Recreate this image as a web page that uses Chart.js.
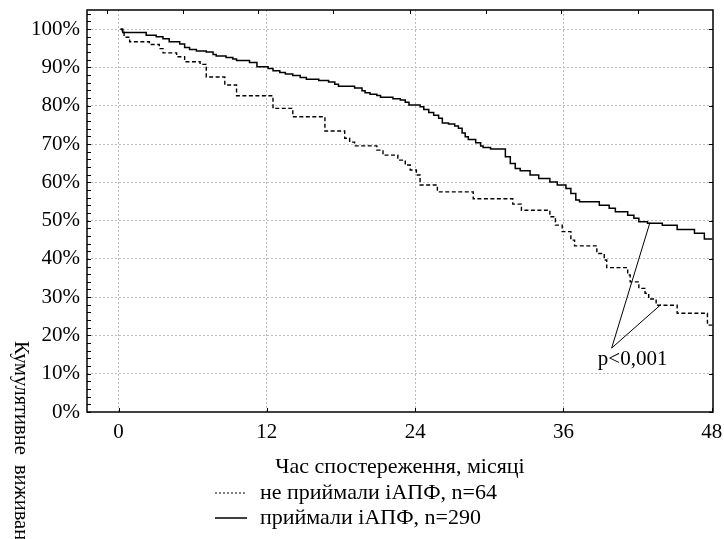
<!DOCTYPE html>
<html>
<head>
<meta charset="utf-8">
<script src="https://cdn.jsdelivr.net/npm/chart.js@4.4.1/dist/chart.umd.min.js"></script>
<style>
  html, body { margin: 0; padding: 0; background: #fff; }
</style>
</head>
<body>
<canvas id="km" width="724" height="539"></canvas>
<script>
'use strict';

// ---------------------------------------------------------------------------
// Data (month of event, survival % after it)
// ---------------------------------------------------------------------------

const treatedLabel = 'приймали іАПФ, n=290';
const treatedMonths = [0.16, 0.35, 2.24, 3.05, 3.6, 4.1, 4.95, 5.35, 5.75, 6.3, 7.1, 7.65, 7.9, 8.7, 9.25, 9.55,
  10.6, 11.2, 12.1, 12.5, 13.05, 13.5, 14.1, 14.7, 15.2, 16.2, 17.0, 17.5, 17.8, 19.1, 19.7, 19.95, 20.35, 20.9,
  21.2, 22.2, 22.8, 23.2, 23.5, 24.4, 24.7, 25.1, 25.5, 25.9, 26.2, 26.7, 27.2, 27.5, 27.8, 28.05, 28.3, 28.9,
  29.3, 29.5, 30.1, 31.3, 31.7, 32.1, 32.5, 33.3, 34.0, 34.9, 35.5, 36.2, 36.6, 37.0, 37.3, 38.9, 39.7, 40.2,
  41.2, 41.7, 42.1, 42.8, 44.0, 45.2, 46.6, 47.4, 48.05];
const treatedSurv = [100, 99.1, 98.4, 98.0, 97.5, 96.7, 96.1, 95.2, 94.7, 94.3, 94.0, 93.4, 93.0, 92.6, 92.2, 91.8,
  91.3, 90.2, 89.7, 89.1, 88.7, 88.3, 87.9, 87.4, 86.9, 86.6, 86.2, 85.6, 85.1, 84.6, 83.9, 83.4, 83.0, 82.7,
  82.2, 81.8, 81.5, 80.9, 80.2, 79.7, 79.0, 78.2, 77.5, 76.7, 75.5, 75.2, 74.7, 74.1, 72.9, 71.9, 71.2, 70.3,
  69.5, 69.1, 68.7, 66.7, 64.9, 63.6, 63.0, 61.9, 61.0, 60.1, 59.3, 58.4, 57.1, 55.4, 54.9, 54.0, 53.2, 52.3,
  51.4, 50.6, 49.7, 49.3, 48.8, 47.7, 46.7, 45.2, 45.2];

const untreatedLabel = 'не приймали іАПФ, n=64';
const untreatedMonths = [0.16, 0.3, 0.45, 0.9, 2.5, 3.3, 3.6, 4.7, 5.35, 6.6, 7.1, 8.6, 9.55, 12.5, 14.1, 16.7,
  18.3, 18.7, 19.1, 20.9, 21.4, 22.6, 23.2, 23.6, 24.1, 24.4, 25.8, 28.7, 31.9, 32.6, 34.9, 35.35, 35.9, 36.6,
  36.9, 38.7, 39.3, 39.5, 41.2, 41.4, 42.1, 42.6, 42.9, 43.5, 45.2, 47.65, 48.05];
const untreatedSurv = [100, 99.2, 97.9, 96.7, 96.0, 94.9, 93.8, 92.8, 91.5, 90.8, 87.5, 85.4, 82.6, 79.3, 77.1, 73.4,
  71.5, 70.5, 69.5, 68.4, 67.1, 65.8, 64.5, 63.2, 61.9, 59.3, 57.5, 55.7, 54.3, 52.7, 51.0, 48.8, 47.1, 44.9,
  43.4, 41.4, 39.7, 37.7, 35.8, 34.0, 32.3, 31.0, 29.5, 27.9, 25.8, 22.7, 22.7];

// "p<0,001" pointer: solid-curve end, apex, dashed-curve end
const pLabel = 'p<0,001';
const pointerMonths = [43.0, 39.9, 43.9];
const pointerSurv = [49.5, 16.7, 28.1];
const pLabelAt = [41.6, 13.6];

// Axes
const xTitle = 'Час спостереження, місяці';
const yTitle = 'Кумулятивне виживання';
const xTicks = [0, 12, 24, 36, 48];
const yTicks = [0, 10, 20, 30, 40, 50, 60, 70, 80, 90, 100];
const yMinorTicks = [2, 4, 6, 8, 12, 14, 16, 18, 22, 24, 26, 28, 32, 34, 36, 38, 42, 44, 46, 48, 52, 54, 56, 58,
  62, 64, 66, 68, 72, 74, 76, 78, 82, 84, 86, 88, 92, 94, 96, 98, 102, 104];
const topTicks = [-0.97, 5.19, 11.27, 17.35, 23.6, 29.7, 35.8, 42.0];

// ---------------------------------------------------------------------------

const FONT = 'Liberation Serif';
const zip = (xs, ys) => xs.map((x, i) => ({ x, y: ys[i] }));

// Frame, inward tick marks, annotation text, axis titles and legend
const framePlugin = {
  id: 'frame',
  afterDatasetsDraw(chart) {
    const { ctx, chartArea: a, scales: { x, y } } = chart;
    ctx.save();
    ctx.strokeStyle = '#000';
    ctx.setLineDash([]);

    ctx.lineWidth = 1.5;
    ctx.strokeRect(a.left, a.top, a.right - a.left, a.bottom - a.top);

    ctx.lineWidth = 1;
    ctx.beginPath();
    for (const v of yTicks.concat(yMinorTicks)) {
      const py = Math.round(y.getPixelForValue(v)) + 0.5;
      ctx.moveTo(a.left, py); ctx.lineTo(a.left + 4, py);
    }
    for (const v of yTicks) {
      const py = Math.round(y.getPixelForValue(v)) + 0.5;
      ctx.moveTo(a.right, py); ctx.lineTo(a.right - 4, py);
    }
    for (const v of xTicks) {
      const px = Math.round(x.getPixelForValue(v)) + 0.5;
      ctx.moveTo(px, a.bottom); ctx.lineTo(px, a.bottom - 4);
    }
    for (const v of topTicks) {
      const px = Math.round(x.getPixelForValue(v)) + 0.5;
      ctx.moveTo(px, a.top); ctx.lineTo(px, a.top + 4);
    }
    ctx.stroke();

    ctx.fillStyle = '#000';
    ctx.textBaseline = 'middle';

    // p-value
    ctx.font = `21px "${FONT}"`;
    ctx.textAlign = 'center';
    ctx.fillText(pLabel, x.getPixelForValue(pLabelAt[0]), y.getPixelForValue(pLabelAt[1]));

    // x title
    ctx.font = `22px "${FONT}"`;
    ctx.fillText(xTitle, 400, 467);

    // legend
    ctx.textAlign = 'left';
    const rows = [
      { text: untreatedLabel, y: 493, dash: [2, 2], w: 1 },
      { text: treatedLabel,   y: 518, dash: [],     w: 1.5 },
    ];
    for (const r of rows) {
      ctx.beginPath();
      ctx.setLineDash(r.dash);
      ctx.lineWidth = r.w;
      ctx.moveTo(215, r.y); ctx.lineTo(247, r.y);
      ctx.stroke();
      ctx.fillText(r.text, 260, r.y);
    }
    ctx.setLineDash([]);

    // y title, rotated clockwise and running off the bottom edge
    ctx.font = `20.5px "${FONT}"`;
    ctx.translate(20, 341);
    ctx.rotate(Math.PI / 2);
    ctx.wordSpacing = '5px';
    ctx.fillText(yTitle, 0, 0);
    ctx.restore();
  },
};

new Chart(document.getElementById('km'), {
  type: 'line',
  data: {
    datasets: [
      {
        label: untreatedLabel,
        data: zip(untreatedMonths, untreatedSurv),
        borderColor: '#000',
        borderWidth: 1.4,
        borderDash: [4, 2.5],
        stepped: true,
        pointRadius: 0,
        fill: false,
      },
      {
        label: treatedLabel,
        data: zip(treatedMonths, treatedSurv),
        borderColor: '#000',
        borderWidth: 1.5,
        stepped: true,
        pointRadius: 0,
        fill: false,
      },
      {
        label: pLabel,
        data: zip(pointerMonths, pointerSurv),
        borderColor: '#000',
        borderWidth: 1,
        pointRadius: 0,
        fill: false,
      },
    ],
  },
  options: {
    responsive: false,
    animation: false,
    devicePixelRatio: 1,
    layout: { padding: { top: 10, right: 11, left: 0, bottom: 0 } },
    plugins: {
      legend: { display: false },
      tooltip: { enabled: false },
    },
    scales: {
      x: {
        type: 'linear',
        min: -2.55,
        max: 48.1,
        afterFit: s => { s.height = 127; s.paddingLeft = 0; s.paddingRight = 0; },
        afterBuildTicks: s => { s.ticks = xTicks.map(v => ({ value: v })); },
        ticks: { color: '#000', font: { family: FONT, size: 21 }, padding: 8, maxRotation: 0, autoSkip: false },
        grid: {
          drawTicks: false,
          lineWidth: 1,
          color: c => (c.tick && c.tick.value === 48 ? 'rgba(0,0,0,0)' : '#bcbcbc'),
        },
        border: { display: false, dash: [2, 2] },
      },
      y: {
        min: 0,
        max: 105,
        afterFit: s => { s.width = 87; s.paddingTop = 0; s.paddingBottom = 0; },
        afterBuildTicks: s => { s.ticks = yTicks.map(v => ({ value: v })); },
        ticks: { color: '#000', font: { family: FONT, size: 21 }, padding: 7, callback: v => v + '%' },
        grid: {
          drawTicks: false,
          lineWidth: 1,
          color: c => (c.tick && c.tick.value === 0 ? 'rgba(0,0,0,0)' : '#bcbcbc'),
        },
        border: { display: false, dash: [2, 2] },
      },
    },
  },
  plugins: [framePlugin],
});
</script>
</body>
</html>
